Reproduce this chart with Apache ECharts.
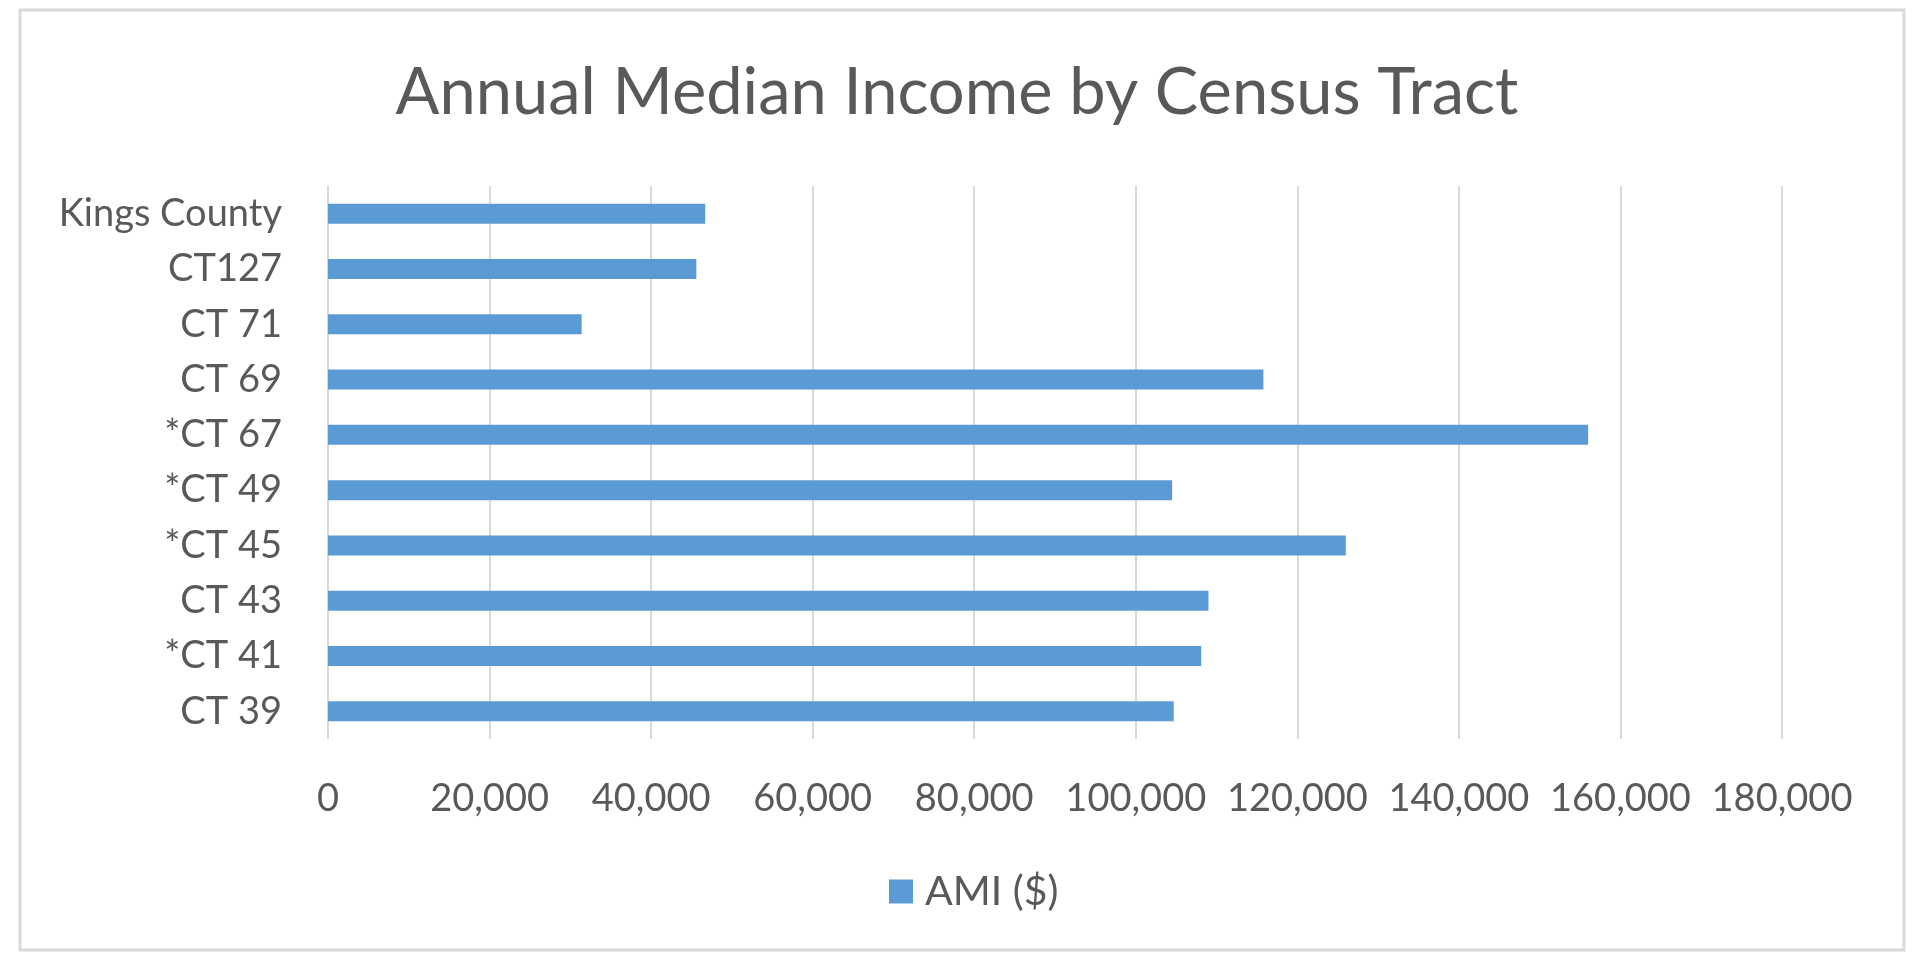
<!DOCTYPE html>
<html>
<head>
<meta charset="utf-8">
<script src="https://cdn.jsdelivr.net/npm/echarts@6/dist/echarts.min.js"></script>
<style>
html,body{margin:0;padding:0;background:#fff;}
#chart{width:1914px;height:959px;}
</style>
</head>
<body>
<div id="chart"></div>
<script>
const categories = ['Kings County', 'CT127', 'CT 71', 'CT 69', '*CT 67', '*CT 49', '*CT 45', 'CT 43', '*CT 41', 'CT 39'];
const amiValues = [46700, 45600, 31400, 115800, 156000, 104500, 126000, 109000, 108100, 104700];
const seriesName = 'AMI ($)';
const titleText = 'Annual Median Income by Census Tract';

const chart = echarts.init(document.getElementById('chart'), null, {renderer: 'canvas'});
const textColor = '#595959';
const fontFam = 'Lato, "Open Sans", sans-serif';
chart.setOption({
  backgroundColor: '#ffffff',
  animation: false,
  title: {
    text: titleText,
    left: 'center',
    top: 56,
    textStyle: {fontFamily: fontFam, fontWeight: 400, fontSize: 65, color: textColor}
  },
  legend: {
    data: [seriesName],
    bottom: 42,
    left: 884,
    itemWidth: 24,
    itemHeight: 24,
    itemGap: 10,
    icon: 'rect',
    textStyle: {fontFamily: fontFam, fontSize: 41, color: textColor, padding: [0, 0, 0, 7]}
  },
  graphic: [{
    type: 'rect',
    shape: {x: 20, y: 10, width: 1884, height: 940},
    style: {fill: 'none', stroke: '#d9d9d9', lineWidth: 3},
    silent: true
  }],
  grid: {left: 328, right: 132, top: 186, bottom: 220, containLabel: false},
  xAxis: {
    type: 'value',
    min: 0,
    max: 180000,
    interval: 20000,
    axisLine: {show: false},
    axisTick: {show: false},
    splitLine: {show: true, lineStyle: {color: '#d9d9d9', width: 2}},
    axisLabel: {
      margin: 41,
      fontFamily: fontFam,
      fontSize: 38,
      color: textColor,
      formatter: v => v.toLocaleString('en-US')
    }
  },
  yAxis: {
    type: 'category',
    data: categories,
    inverse: true,
    axisLine: {show: false},
    axisTick: {show: false},
    axisLabel: {margin: 46, fontFamily: fontFam, fontSize: 38, color: textColor}
  },
  series: [{
    name: seriesName,
    type: 'bar',
    data: amiValues,
    barWidth: 20,
    itemStyle: {color: '#5b9bd5'}
  }]
});
</script>
</body>
</html>
